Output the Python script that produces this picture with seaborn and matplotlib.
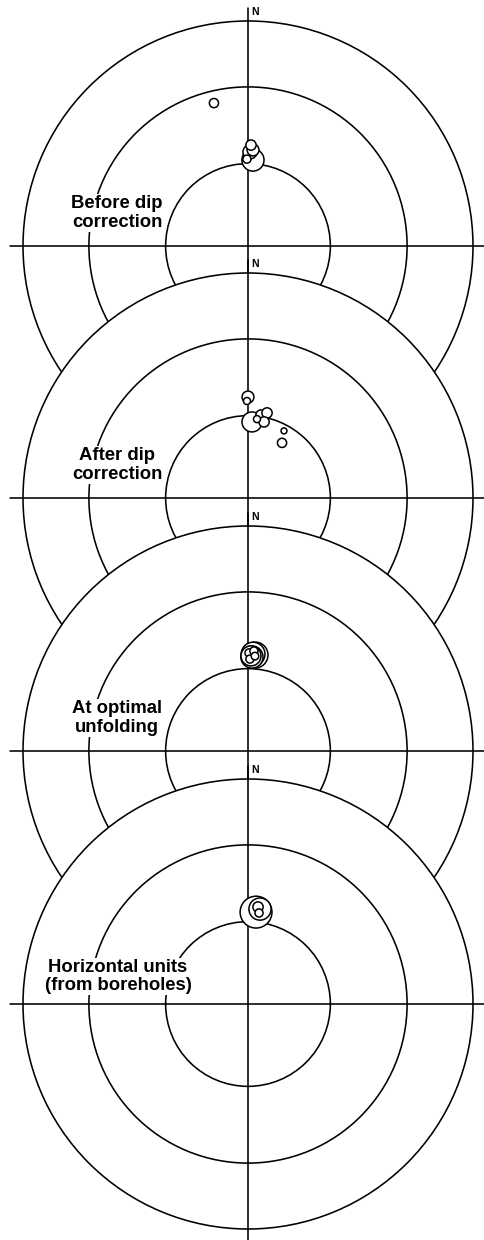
import numpy as np
import pandas as pd
import matplotlib
matplotlib.use('Agg')
import matplotlib.pyplot as plt
from matplotlib.patches import Circle
import seaborn as sns


# ── Site means: declination, inclination, alpha95 (degrees) ──────────────────
BEFORE_DEC = [346.6, 3.3, 3.0, 1.2, 1.7, 359.3]
BEFORE_INC = [35.0, 58.6, 54.8, 55.6, 53.0, 58.3]
BEFORE_A95 = [1.7, 4.1, 2.2, 2.6, 1.9, 1.5]

AFTER_DEC = [0.0, 359.4, 3.0, 8.9, 12.6, 11.9, 6.5, 28.2, 31.7]
AFTER_INC = [53.0, 54.5, 62.3, 59.4, 58.2, 61.7, 61.1, 62.3, 66.5]
AFTER_A95 = [2.2, 1.3, 3.7, 1.9, 1.9, 1.9, 1.3, 1.1, 1.7]

OPTIMAL_DEC = [4.2, 3.0, 2.4, 1.8, 0.6, 3.4, 1.2, 4.2]
OPTIMAL_INC = [54.8, 54.5, 55.6, 55.2, 54.1, 53.3, 56.4, 55.2]
OPTIMAL_A95 = [4.8, 4.4, 4.1, 3.7, 1.5, 1.5, 1.5, 1.4]

BOREHOLE_DEC = [5.0, 7.2, 5.9, 6.9]
BOREHOLE_INC = [56.3, 55.0, 54.3, 56.5]
BOREHOLE_A95 = [5.9, 4.1, 1.9, 1.5]

PANEL_LABELS = ['Before dip\ncorrection', 'After dip\ncorrection',
                'At optimal\nunfolding', 'Horizontal units\n(from boreholes)']

# net rings: inclination circles
RING_INCS = [60, 30]

# ── Layout (pixels) ───────────────────────────────────────────────────────────
DPI = 100
FIG_W, FIG_H = 484, 1240
CX = 248
CENTERS_Y = [246, 498, 751, 1004]
NET_R = 225          # radius of primitive circle
HALF = 238           # half-length of the cross lines
PX_PER_DEG = 2.7     # approx local scale of the net near I ~ 55
LABEL_POS = [(-0.582, 0.147), (-0.582, 0.147), (-0.582, 0.147), (-0.578, 0.122)]
LW = 1.15


def equal_area(dec, inc):
    """Lambert equal-area projection (lower hemisphere), unit primitive."""
    dec = np.radians(np.asarray(dec, dtype=float))
    inc = np.asarray(inc, dtype=float)
    rho = np.sqrt(2) * np.sin(np.radians(90 - inc) / 2)
    return rho * np.sin(dec), rho * np.cos(dec)


def marker_area(a95):
    diam_pt = 2 * a95 * PX_PER_DEG * 72 / DPI
    return diam_pt ** 2


def draw_net(ax, label, label_xy, dec, inc, a95):
    lim = HALF / NET_R
    ax.set_xlim(-lim, lim)
    ax.set_ylim(-lim, lim)
    ax.axis('off')
    ax.patch.set_visible(False)

    # primitive (white filled, hides the nets underneath)
    ax.add_patch(Circle((0, 0), 1.0, facecolor='white', edgecolor='black',
                        lw=LW, zorder=1))
    for i in RING_INCS:
        r = np.sqrt(2) * np.sin(np.radians(90 - i) / 2)
        ax.add_patch(Circle((0, 0), r, fill=False, edgecolor='black', lw=LW, zorder=2))

    ax.plot([-lim, lim], [0, 0], color='black', lw=LW, zorder=2, clip_on=False)
    ax.plot([0, 0], [-lim, lim], color='black', lw=LW, zorder=2, clip_on=False)

    ax.text(0.013, 1.04, 'N', fontsize=7.5, fontweight='bold', color='black',
            ha='left', va='center', zorder=6)
    ax.text(label_xy[0], label_xy[1], label, fontsize=13.3, fontweight='bold',
            color='black', ha='center', va='center', multialignment='center',
            linespacing=1.12, zorder=4,
            bbox=dict(boxstyle='square,pad=0.05', facecolor='white', edgecolor='none'))

    x, y = equal_area(dec, inc)
    df = pd.DataFrame({'x': x, 'y': y, 'a95': a95})
    df = df.sort_values('a95', ascending=False, kind='stable')
    size_map = {a: marker_area(a) for a in df['a95'].unique()}
    sns.scatterplot(data=df, x='x', y='y', size='a95', sizes=size_map,
                    marker='o', facecolor='white', edgecolor='black',
                    linewidth=1.1, legend=False, ax=ax, zorder=5)
    ax.set_xlabel('')
    ax.set_ylabel('')


sns.set_theme(style='white')
plt.rcParams['font.family'] = ['Liberation Sans', 'DejaVu Sans']

fig = plt.figure(figsize=(FIG_W / DPI, FIG_H / DPI), dpi=DPI)
fig.patch.set_facecolor('white')

data = [(BEFORE_DEC, BEFORE_INC, BEFORE_A95),
        (AFTER_DEC, AFTER_INC, AFTER_A95),
        (OPTIMAL_DEC, OPTIMAL_INC, OPTIMAL_A95),
        (BOREHOLE_DEC, BOREHOLE_INC, BOREHOLE_A95)]

for k, (cy, label, lxy, (dec, inc, a95)) in enumerate(zip(CENTERS_Y, PANEL_LABELS,
                                                           LABEL_POS, data)):
    rect = [(CX - HALF) / FIG_W, 1 - (cy + HALF) / FIG_H,
            2 * HALF / FIG_W, 2 * HALF / FIG_H]
    ax = fig.add_axes(rect)
    ax.set_zorder(k + 1)
    draw_net(ax, label, lxy, dec, inc, a95)

fig.savefig('out.png', dpi=DPI, facecolor='white')
